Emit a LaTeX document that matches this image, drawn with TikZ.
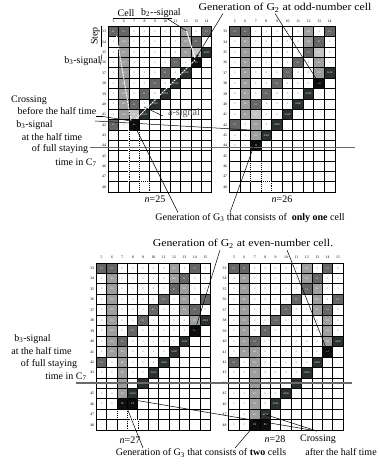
\documentclass[tikz,border=0pt]{standalone}
\usepackage{fontspec}
\setmainfont{Liberation Serif}
\usetikzlibrary{arrows.meta}
\definecolor{colW}{HTML}{FFFFFF}
\definecolor{colE}{HTML}{FFFFFF}
\definecolor{colD}{HTML}{666666}
\definecolor{colM}{HTML}{9E9E9E}
\definecolor{colL}{HTML}{C4C4C4}
\definecolor{colA}{HTML}{2B3131}
\definecolor{colP}{HTML}{0E0E0E}
\definecolor{txW}{HTML}{707070}
\definecolor{txE}{HTML}{FFFFFF}
\definecolor{txD}{HTML}{E6E6E6}
\definecolor{txM}{HTML}{F0F0F0}
\definecolor{txL}{HTML}{F8F8F8}
\definecolor{txA}{HTML}{E6E6E6}
\definecolor{txP}{HTML}{E6E6E6}
\definecolor{halfline}{HTML}{6A6A6A}
\def\txtW{0}\def\txtE{}\def\txtD{b1}\def\txtM{B0}\def\txtL{B1}\def\txtA{A000}\def\txtP{P0}
\newcommand{\drawgrid}[7]{%
  \foreach \kc in {5,...,#6} {
    \node[collab] (#1-c\kc) at ({#2+(\kc-4.5)*#4},{#3-5.5}) {\kc};
  }
  \foreach \rowdata [count=\rr from 33] in {#7} {
    \node[rowlab] (#1-r\rr) at ({#2-4.3},{#3+(\rr-32.5)*#5}) {\rr};
    \foreach \cc [count=\kc from 5] in \rowdata {
      \node[cellbase, fill=col\cc, text=tx\cc, minimum width=#4pt, minimum height=#5pt]
        (#1-\rr-\kc) at ({#2+(\kc-4.5)*#4},{#3+(\rr-32.5)*#5}) {\csname txt\cc\endcsname};
    }
  }
}
\begin{document}
\begin{tikzpicture}[x=1pt,y=-1pt,
  cellbase/.style={draw=black, line width=0.85pt, inner sep=0pt, outer sep=0pt, font=\fontsize{2.6}{2.8}\selectfont},
  collab/.style={font=\fontsize{3.8}{4}\selectfont, inner sep=0pt},
  rowlab/.style={font=\fontsize{3.8}{4}\selectfont, inner sep=0pt},
  ann/.style={font=\fontsize{10}{12}\selectfont, inner sep=0pt},
  annbig/.style={font=\fontsize{10.5}{12}\selectfont, inner sep=0pt},
  ptr/.style={draw=black, line width=0.5pt},
  ptra/.style={draw=black, line width=0.5pt, -{Stealth[length=3.5pt,width=2.5pt]}},
  half/.style={draw=halfline, line width=1.1pt},
  dotln/.style={line width=0.6pt, dash pattern=on 0.8pt off 1.1pt, preaction={draw=white, line width=1.2pt, solid}},
  sigw/.style={draw=white, line width=0.9pt}]
\useasboundingbox (0,0) rectangle (378,465);
\fill[white] (0,0) rectangle (378,465);

% ---------------- grid n=25 ----------------
\drawgrid{G1}{108.3}{26.5}{10.34}{10.35}{14}{
{D,D,W,W,W,W,W,M,W,D},
{W,M,W,W,W,W,W,M,D,W},
{W,M,W,W,W,W,W,M,L,A},
{W,M,W,W,W,W,D,W,P,E},
{W,M,W,W,W,D,W,A,E,E},
{W,M,W,W,D,W,A,E,E,E},
{W,M,W,D,W,A,E,E,E,E},
{W,M,D,W,A,E,E,E,E,E},
{W,M,L,A,E,E,E,E,E,E},
{D,W,P,E,E,E,E,E,E,E},
{E,E,E,E,E,E,E,E,E,E},
{E,E,E,E,E,E,E,E,E,E},
{E,E,E,E,E,E,E,E,E,E},
{E,E,E,E,E,E,E,E,E,E},
{E,E,E,E,E,E,E,E,E,E},
{E,E,E,E,E,E,E,E,E,E}}
% ---------------- grid n=26 ----------------
\drawgrid{G2}{229.5}{26.5}{10.55}{10.35}{14}{
{D,D,W,W,W,W,W,M,W,D},
{W,M,W,W,W,W,W,M,D,W},
{W,M,W,W,W,W,W,D,L,W},
{W,M,W,W,W,W,D,W,M,W},
{W,M,W,W,W,D,W,W,M,A},
{W,M,W,W,D,W,W,W,P,E},
{W,M,W,D,W,W,W,A,E,E},
{W,M,D,W,W,W,A,E,E,E},
{W,M,L,W,W,A,E,E,E,E},
{D,W,M,W,A,E,E,E,E,E},
{W,W,M,A,E,E,E,E,E,E},
{W,W,P,E,E,E,E,E,E,E},
{E,E,E,E,E,E,E,E,E,E},
{E,E,E,E,E,E,E,E,E,E},
{E,E,E,E,E,E,E,E,E,E},
{E,E,E,E,E,E,E,E,E,E}}
% ---------------- grid n=27 ----------------
\drawgrid{G3}{96.5}{263}{10.35}{10.45}{15}{
{D,D,W,W,W,W,W,M,W,D,W},
{W,M,W,W,W,W,W,M,D,W,W},
{W,M,W,W,W,W,W,D,M,W,W},
{W,M,W,W,W,W,D,W,M,W,D},
{W,M,W,W,W,D,W,W,M,D,W},
{W,M,W,W,D,W,W,W,W,M,A},
{W,M,W,D,W,W,W,W,W,P,E},
{W,M,D,W,W,W,W,W,A,E,E},
{W,M,M,W,W,W,W,A,E,E,E},
{D,W,M,W,W,W,A,E,E,E,E},
{W,W,M,W,W,A,E,E,E,E,E},
{W,W,M,W,A,E,E,E,E,E,E},
{W,W,M,A,E,E,E,E,E,E,E},
{W,W,P,P,E,E,E,E,E,E,E},
{E,E,E,E,E,E,E,E,E,E,E},
{E,E,E,E,E,E,E,E,E,E,E}}
% ---------------- grid n=28 ----------------
\drawgrid{G4}{228.8}{263}{10.4}{10.45}{15}{
{D,D,W,W,W,W,W,M,W,D,W},
{W,M,W,W,W,W,W,M,D,W,W},
{W,M,W,W,W,W,W,D,M,W,W},
{W,M,W,W,W,W,D,W,M,W,D},
{W,M,W,W,W,D,W,W,M,D,W},
{W,M,W,W,D,W,W,W,W,M,W},
{W,M,W,D,W,W,W,W,W,M,W},
{W,M,D,W,W,W,W,W,W,M,A},
{W,M,M,W,W,W,W,W,W,P,E},
{D,W,M,W,W,W,W,W,A,E,E},
{W,W,M,W,W,W,W,A,E,E,E},
{W,W,M,W,W,W,A,E,E,E,E},
{W,W,M,W,W,A,E,E,E,E,E},
{W,W,M,W,A,E,E,E,E,E,E},
{W,W,M,A,E,E,E,E,E,E,E},
{W,W,P,P,E,E,E,E,E,E,E}}

% dotted paths (shifted G3)
\draw[dotln] (G1-43-7.north west) -- (G1-47-7.south west);
\draw[dotln] (G1-43-7.north east) -- (G1-48-7.south east);
\draw[dotln] (G1-48-8.north west) -- (G1-48-8.north east) -- (G1-48-8.south east);
\draw[dotln] (G2-46-7.north west) -- (G2-47-7.south west);
\draw[dotln] (G2-46-7.north east) -- (G2-48-7.south east);
\draw[dotln] (G2-48-8.north west) -- (G2-48-8.north east) -- (G2-48-8.south east);
\draw[dotln] (G3-47-7.north west) -- (G3-47-7.south west);
\draw[dotln] (G3-47-7.north east) -- (G3-48-7.south east);
\draw[dotln] (G3-48-8.north west) -- (G3-48-8.north east) -- (G3-48-8.south east);

% white signal lines in n=25
\coordinate (b3a) at (116.5,36);
\coordinate (b3b) at (131,121);
\coordinate (aa) at (195,60);
\coordinate (ab) at (136,119);
\coordinate (b2a) at (186.5,31);
\coordinate (b2b) at (195,58);
\draw[sigw, dash pattern=on 2pt off 1pt] (b3a) -- (b3b);
\draw[sigw, dash pattern=on 2pt off 0.8pt] (aa) -- (ab);
\draw[sigw] (b2a) -- (b2b);

% ---------------- annotations top ----------------
\node[ann] (cellT) at (126,13) {Cell};
\node[ann] (b2T) at (161,13) {b\textsubscript{2}-{}-signal};
\coordinate (cu1) at (113,18.5);
\coordinate (cu2) at (172,18.5);
\draw[ptr] (cu1) -- (cu2);
\coordinate (b2p) at (167,18.5);
\draw[ptr] (b2p) -- (b2a);

\node[ann, rotate=90] (stepT) at (95.5,36) {Step};
\coordinate (su1) at (101,26);
\coordinate (su2) at (101,47);
\draw[ptr] (su1) -- (su2);

\node[ann] (b3T) at (82.5,61) {b\textsubscript{3}-signal};
\coordinate (b3p1) at (100.5,64.5);
\coordinate (b3p2) at (102,54);
\draw[ptr] (b3p1) -- (b3p2);

\node[annbig, xscale=1.12] (g2oT) at (285,8) {Generation of G\textsubscript{2} at odd-number cell};
\coordinate (g2o1) at (223,13.5);
\coordinate (g2o2) at (275,13.5);
\draw[ptra] (g2o1) -- (G1-36-13.north);
\draw[ptra] (g2o2) -- (G2-38-13.center);

\node[ann] (crT1) at (29,100) {Crossing};
\node[ann] (crT2) at (57,111.5) {before the half time};
\coordinate (cr1) at (96,116.5);
\coordinate (cr2) at (103,116.5);
\draw[ptr] (cr1) -- (cr2);
\draw[ptr] (cr2) -- (b3b);
\coordinate (cr3) at (95,121);
\draw[ptr] (cr3) -- (G2-43-7.north west);

\node[ann, text=black!65] (asigT) at (184,113) {a-signal};
\coordinate (asp) at (163,116);
\coordinate (asq) at (144,107);
\draw[ptr] (asp) -- (asq);

\node[ann] (hb1) at (34.5,125) {b\textsubscript{3}-signal};
\node[ann] (hb2) at (52,137) {at the half time};
\node[ann] (hb3) at (60,149.5) {of full staying};
\node[ann] (hb4) at (76,162.5) {time in C\textsubscript{7}};
\coordinate (hl1) at (90,147.5);
\coordinate (hl2) at (355,147.5);
\draw[half] (hl1) -- (hl2);

\node[ann] (n25) at (155,199) {\textit{n}=25};
\node[ann] (n26) at (282,199) {\textit{n}=26};
\node[ann] (g3oT) at (250,218) {Generation of G\textsubscript{3} that consists of\ \ \textbf{only one} cell};
\coordinate (g3o1) at (178,212.5);
\coordinate (g3o2) at (230,212.5);
\draw[ptr] (g3o1) -- (G1-42-7.center);
\draw[ptr] (g3o2) -- (G2-44-7.north);

% ---------------- annotations bottom ----------------
\node[annbig, xscale=1.12] (g2eT) at (243,244) {Generation of G\textsubscript{2} at even-number cell.};
\coordinate (g2e1) at (220,250);
\coordinate (g2e2) at (287,250);
\draw[ptra] (g2e1) -- (G3-39-14.center);
\draw[ptra] (g2e2) -- (G4-41-14.center);

\node[ann] (lb1) at (32.5,339) {b\textsubscript{3}-signal};
\node[ann] (lb2) at (41.5,351.5) {at the half time};
\node[ann] (lb3) at (49,364.5) {of full staying};
\node[ann] (lb4) at (66,376.5) {time in C\textsubscript{7}};
\coordinate (hl3) at (76,383);
\coordinate (hl4) at (352,383);
\draw[half] (hl3) -- (hl4);

\node[ann] (n27) at (130,440) {\textit{n}=27};
\node[ann] (n28) at (275,439) {\textit{n}=28};
\node[ann] (caT1) at (318,439) {Crossing};
\node[ann] (caT2) at (341,452) {after the half time};
\coordinate (ca1) at (317,431);
\draw[ptr] (ca1) -- (G3-45-8.south west);
\draw[ptr] (ca1) -- (G4-47-8.center);

\node[ann] (g3tT) at (201,453) {Generation of G\textsubscript{3} that consists of \textbf{two} cells};
\coordinate (g3t1) at (143,448);
\coordinate (g3t2) at (235,448);
\draw[ptr] (g3t1) -- (G3-46-7.south east);
\draw[ptr] (g3t2) -- (G4-48-7.center);
\end{tikzpicture}
\end{document}
